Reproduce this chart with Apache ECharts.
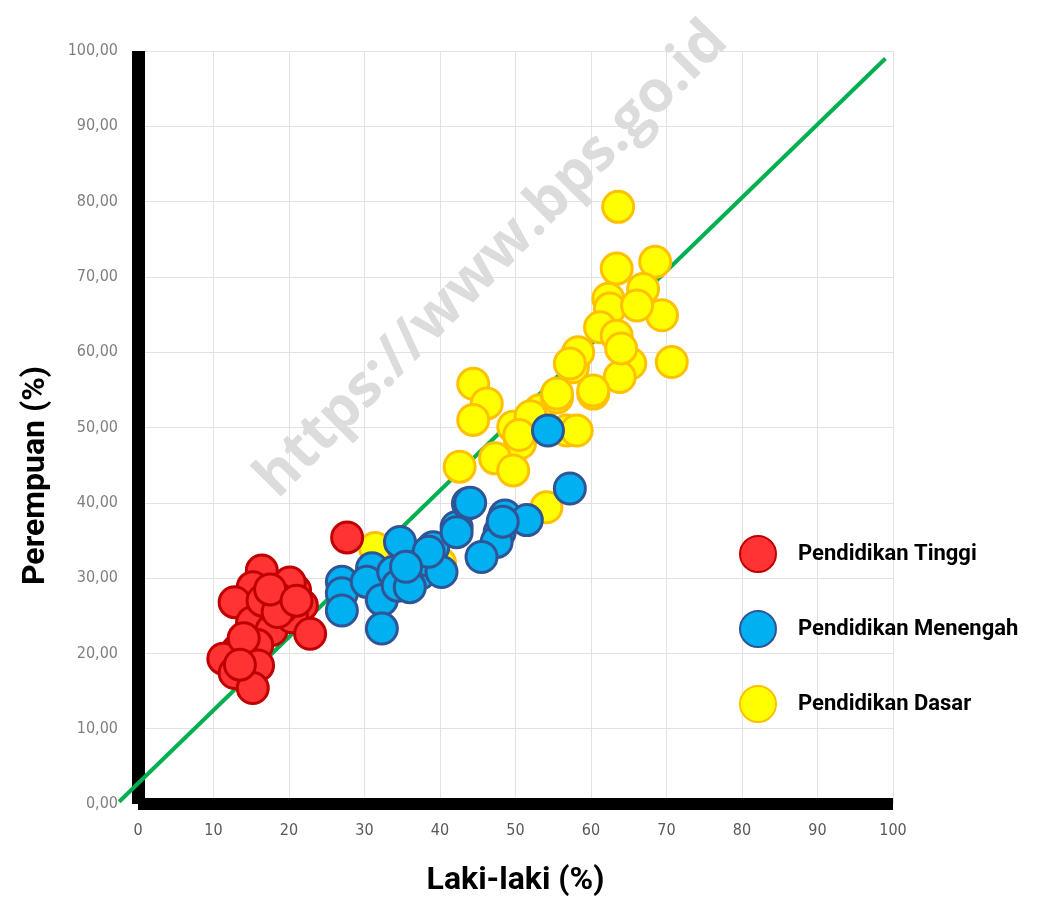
<!DOCTYPE html>
<html>
<head>
<meta charset="utf-8">
<title>Laki-laki vs Perempuan</title>
<script src="https://cdn.jsdelivr.net/npm/echarts@6/dist/echarts.min.js"></script>
<style>
  html, body { margin: 0; padding: 0; background: #fff; }
  #chart { width: 1049px; height: 903px; }
</style>
</head>
<body>
<div id="chart"></div>
<script>
// data: [laki-laki, perempuan]
const tinggiX = [16.4, 15.2, 12.8, 17.7, 20.8, 20.1, 18.5, 21.7, 15.1, 17.7, 20.4, 22.8, 15.8, 13.2, 11.3, 15.9, 12.8, 15.2, 27.7, 14.0, 19.0, 16.5, 13.5, 18.5, 17.5, 21.0]
const tinggiY = [31.0, 28.8, 26.8, 28.1, 28.4, 29.4, 27.3, 26.4, 24.1, 23.1, 24.8, 22.6, 21.1, 20.4, 19.3, 18.4, 17.4, 15.4, 35.4, 22.0, 26.0, 27.0, 18.5, 25.5, 28.5, 27.0]

const menengahX = [27.0, 27.0, 27.0, 34.7, 31.0, 30.3, 33.8, 32.3, 32.3, 34.4, 37.4, 38.2, 39.1, 40.2, 36.0, 42.2, 43.7, 42.2, 48.6, 47.9, 47.5, 51.5, 45.5, 57.2, 54.3, 44.0, 38.5, 35.5, 48.3]
const menengahY = [29.5, 28.0, 25.7, 34.8, 31.3, 29.5, 30.8, 27.1, 23.3, 29.0, 30.6, 32.4, 34.1, 30.8, 28.8, 36.8, 39.9, 36.1, 38.3, 36.1, 34.8, 37.7, 32.8, 41.9, 49.6, 40.0, 33.5, 31.5, 37.5]

const dasarX = [31.4, 39.1, 40.0, 44.4, 46.2, 44.4, 49.7, 50.6, 47.3, 49.7, 42.6, 53.2, 55.5, 56.8, 58.1, 60.3, 57.6, 54.1, 63.6, 63.4, 68.5, 66.9, 62.3, 62.5, 69.4, 61.2, 63.4, 66.1, 58.3, 57.2, 65.2, 70.7, 63.8, 60.3, 55.5, 52.0, 50.5, 64.0]
const dasarY = [34.0, 31.5, 32.0, 55.8, 53.2, 51.0, 50.1, 47.9, 45.9, 44.3, 44.8, 52.3, 54.0, 49.6, 49.6, 54.5, 58.0, 39.4, 79.3, 71.1, 72.0, 68.4, 67.1, 65.8, 64.9, 63.3, 62.2, 66.2, 60.0, 58.5, 58.5, 58.7, 56.7, 54.9, 54.5, 51.5, 49.0, 60.5]

// green reference line (runs a little past the left axis)
const trendX = [-2.5, 99]
const trendY = [0.3, 99]

const xTicks = [0, 10, 20, 30, 40, 50, 60, 70, 80, 90, 100]
const yTicks = [0, 10, 20, 30, 40, 50, 60, 70, 80, 90, 100]

const labelFont = "'Liberation Sans Narrow', 'DejaVu Sans Condensed', 'Roboto', sans-serif"
const titleFont = "'Roboto', 'Liberation Sans', sans-serif"

const pairs = (xs, ys) => xs.map((x, i) => [x, ys[i]])

const chart = echarts.init(document.getElementById('chart'))

const option = {
  backgroundColor: '#fff',
  animation: false,
  grid: {
    left: 138,
    right: 156,
    top: 51,
    bottom: 99
  },
  legend: {
    orient: 'vertical',
    left: 734,
    top: 530,
    itemWidth: 36,
    itemHeight: 36,
    itemGap: 37,
    icon: 'circle',
    data: ['Pendidikan Tinggi', 'Pendidikan Menengah', 'Pendidikan Dasar'],
    textStyle: {
      fontFamily: titleFont,
      fontSize: 22,
      fontWeight: 'bold',
      color: '#000',
      padding: [0, 0, 0, 17]
    }
  },
  xAxis: {
    type: 'value',
    min: xTicks[0],
    max: xTicks[xTicks.length - 1],
    interval: 10,
    offset: 3,
    name: 'Laki-laki (%)',
    nameLocation: 'middle',
    nameGap: 58,
    nameTextStyle: { fontFamily: titleFont, fontSize: 32, fontWeight: 'bold', color: '#000' },
    axisLine: { show: true, lineStyle: { color: '#000', width: 12, cap: 'butt' } },
    axisTick: { show: false },
    axisLabel: { fontFamily: labelFont, fontSize: 16, color: '#595959', margin: 16 },
    splitLine: { show: true, lineStyle: { color: '#e2e2e2', width: 1 } }
  },
  yAxis: {
    type: 'value',
    min: yTicks[0],
    max: yTicks[yTicks.length - 1],
    interval: 10,
    name: 'Perempuan (%)',
    nameLocation: 'middle',
    nameRotate: 90,
    nameGap: 86,
    nameTextStyle: {
      fontFamily: titleFont,
      fontSize: 32,
      fontWeight: 'bold',
      color: '#000',
      padding: [0, 96, 0, 0]
    },
    axisLine: { show: true, lineStyle: { color: '#000', width: 13, cap: 'butt' } },
    axisTick: { show: false },
    axisLabel: {
      fontFamily: labelFont,
      fontSize: 16,
      color: '#7f7f7f',
      margin: 20,
      formatter: v => v.toFixed(2).replace('.', ',')
    },
    splitLine: { show: true, lineStyle: { color: '#e2e2e2', width: 1 } }
  },
  series: [
    {
      name: 'Pendidikan Dasar',
      type: 'scatter',
      data: pairs(dasarX, dasarY),
      symbolSize: 31,
      z: 2,
      itemStyle: { color: '#ffff00', borderColor: '#ffc000', borderWidth: 3, opacity: 1 }
    },
    {
      name: 'Pendidikan Menengah',
      type: 'scatter',
      data: pairs(menengahX, menengahY),
      symbolSize: 31,
      z: 3,
      itemStyle: { color: '#00b0f0', borderColor: '#2f5597', borderWidth: 3, opacity: 1 }
    },
    {
      name: 'Pendidikan Tinggi',
      type: 'scatter',
      data: pairs(tinggiX, tinggiY),
      symbolSize: 31,
      z: 4,
      itemStyle: { color: '#ff3333', borderColor: '#c00000', borderWidth: 3, opacity: 1 }
    }
  ]
}

chart.setOption(option)

// trend line through the chart's own scale, so it can run past the axis
const p0 = chart.convertToPixel({ gridIndex: 0 }, [trendX[0], trendY[0]])
const p1 = chart.convertToPixel({ gridIndex: 0 }, [trendX[1], trendY[1]])

chart.setOption({
  graphic: [
    {
      type: 'text',
      x: 492,
      y: 260,
      rotation: 0.79,
      z: 0,
      silent: true,
      style: {
        text: 'https://www.bps.go.id',
        fontFamily: "'Open Sans', 'DejaVu Sans', sans-serif",
        fontSize: 58,
        fontWeight: 'bold',
        fill: '#dcdcdc',
        align: 'center',
        verticalAlign: 'middle'
      }
    },
    {
      type: 'line',
      z: 1,
      silent: true,
      shape: { x1: p0[0], y1: p0[1], x2: p1[0], y2: p1[1] },
      style: { stroke: '#00b050', lineWidth: 4 }
    }
  ]
})
</script>
</body>
</html>
